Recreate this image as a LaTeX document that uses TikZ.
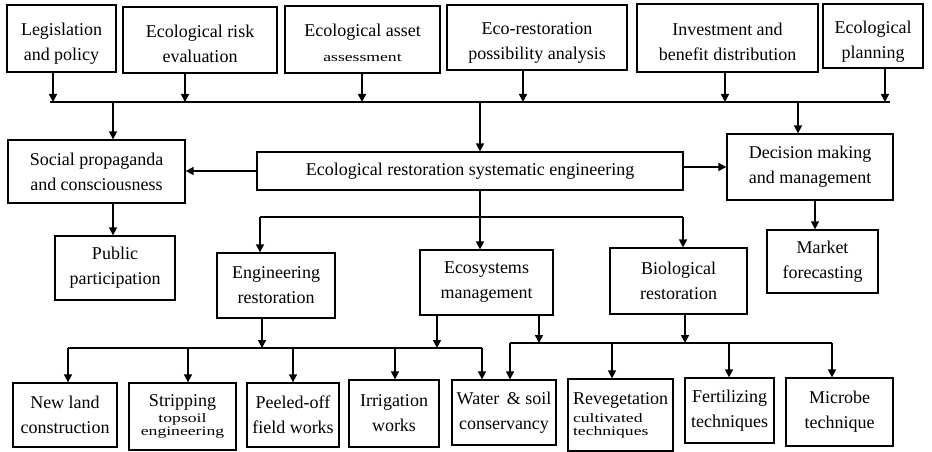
\documentclass[tikz,border=0pt]{standalone}
\usepackage{fontspec}
\usepackage{graphicx}
\setmainfont{Liberation Serif}
\usetikzlibrary{arrows.meta}
\newcommand\sqz[1]{\scalebox{0.98}[0.72]{#1}}
\newcommand\twoln[2]{\raisebox{-5pt}[\height][\depth]{\begin{tabular}{@{}c@{}}#1\\#2\end{tabular}}}
\begin{document}
\begin{tikzpicture}[x=1pt,y=-1pt,
 box/.style={draw, line width=1.3pt, inner sep=0pt, align=center, font=\fontsize{18}{25}\selectfont},
 arr/.style={-{Triangle[length=8pt,width=8pt]}, line width=1.6pt},
 ln/.style={line width=1.6pt}]
\useasboundingbox[fill=white] (0,0) rectangle (932,452);
% top row
\node[box, minimum width=109pt, minimum height=67pt] (leg) at (61.5,38.5) {\twoln{Legislation}{and policy}};
\node[box, minimum width=154pt, minimum height=66pt] (risk) at (200,40) {\twoln{Ecological risk}{evaluation}};
\node[box, minimum width=155pt, minimum height=67pt] (asset) at (362.5,39.5) {\twoln{Ecological asset}{\sqz{assessment}}};
\node[box, minimum width=180pt, minimum height=65pt] (poss) at (537,37.5) {\twoln{Eco-restoration}{possibility analysis}};
\node[box, minimum width=181pt, minimum height=68pt] (inv) at (727.5,38) {\twoln{Investment and}{benefit distribution}};
\node[box, minimum width=100pt, minimum height=64pt] (plan) at (873,36) {\twoln{Ecological}{planning}};
% middle
\node[box, minimum width=177pt, minimum height=63pt] (soc) at (96.5,171.5) {Social propaganda\\and consciousness};
\node[box, minimum width=426pt, minimum height=38pt] (main) at (470,171) {Ecological restoration systematic engineering};
\node[box, minimum width=166pt, minimum height=66pt] (dec) at (810,167) {Decision making\\and management};
\node[box, minimum width=120pt, minimum height=64pt] (pub) at (115,268) {Public\\participation};
\node[box, minimum width=111pt, minimum height=63pt] (mkt) at (822.5,261.5) {Market\\forecasting};
\node[box, minimum width=118pt, minimum height=65pt] (eng) at (276,285.5) {Engineering\\restoration};
\node[box, minimum width=133pt, minimum height=65pt] (eco) at (486.5,282.5) {Ecosystems\\management};
\node[box, minimum width=137pt, minimum height=66pt] (bio) at (678.5,281) {Biological\\restoration};
% bottom
\node[box, minimum width=104pt, minimum height=64pt] (newl) at (65,415) {New land\\construction};
\node[box, minimum width=107pt, minimum height=67pt] (strip) at (182.5,416.5) {Stripping\\[-9pt]\sqz{topsoil}\\[-12pt]\sqz{engineering}};
\node[box, minimum width=92pt, minimum height=64pt] (peel) at (293,415) {Peeled-off\\field works};
\node[box, minimum width=90pt, minimum height=67pt] (irr) at (394,413.5) {Irrigation\\works};
\node[box, minimum width=104pt, minimum height=65pt] (wat) at (504,412.5) {Water \,\& soil\\conservancy};
\node[box, minimum width=105pt, minimum height=72pt, align=left] (rev) at (620.5,415) {Revegetation\\[-7pt]\sqz{cultivated}\\[-12pt]\sqz{techniques}};
\node[box, minimum width=89pt, minimum height=65pt] (fert) at (729.5,410.5) {Fertilizing\\techniques};
\node[box, minimum width=107pt, minimum height=68pt] (mic) at (839.5,412) {Microbe\\technique};
% top bus
\coordinate (busL) at (50,102);
\coordinate (busR) at (890,102);
\draw[ln] (busL) -- (busR);
\coordinate (t1) at (53,102);
\coordinate (t2) at (185,102);
\coordinate (t3) at (362,102);
\coordinate (t4) at (523,102);
\coordinate (t5) at (725,102);
\coordinate (t6) at (885,102);
\draw[arr] (leg.south -| t1) -- (t1);
\draw[arr] (risk.south -| t2) -- (t2);
\draw[arr] (asset.south -| t3) -- (t3);
\draw[arr] (poss.south -| t4) -- (t4);
\draw[arr] (inv.south -| t5) -- (t5);
\draw[arr] (plan.south -| t6) -- (t6);
\coordinate (d1) at (113,102);
\coordinate (d2) at (480,102);
\coordinate (d3) at (798,102);
\draw[arr] (d1) -- (soc.north -| d1);
\draw[arr] (d2) -- (main.north -| d2);
\draw[arr] (d3) -- (dec.north -| d3);
% middle connections
\draw[arr] (main.west) -- (soc.east |- main.west);
\coordinate (mr) at (683,167);
\draw[arr] (mr) -- (dec.west |- mr);
\coordinate (p1) at (113,203);
\draw[arr] (soc.south -| p1) -- (pub.north -| p1);
\coordinate (m1) at (815,200);
\draw[arr] (dec.south -| m1) -- (mkt.north -| m1);
% main to second level
\coordinate (b1) at (260,217);
\coordinate (b2) at (480,217);
\coordinate (b3) at (683,217);
\draw[ln] (main.south -| b2) -- (b2);
\draw[ln] (b1) -- (b3);
\draw[arr] (b1) -- (eng.north -| b1);
\draw[arr] (b2) -- (eco.north -| b2);
\draw[arr] (b3) -- (bio.north -| b3);
% left lower bus
\coordinate (lL) at (68,348);
\coordinate (lR) at (482,348);
\draw[ln] (lL) -- (lR);
\coordinate (e1) at (262,348);
\coordinate (e2) at (437,348);
\draw[arr] (eng.south -| e1) -- (e1);
\draw[arr] (eco.south -| e2) -- (e2);
\coordinate (l2) at (188,348);
\coordinate (l3) at (293,348);
\coordinate (l4) at (395,348);
\draw[arr] (lL) -- (newl.north -| lL);
\draw[arr] (l2) -- (strip.north -| l2);
\draw[arr] (l3) -- (peel.north -| l3);
\draw[arr] (l4) -- (irr.north -| l4);
\draw[arr] (lR) -- (wat.north -| lR);
% right lower bus
\coordinate (rL) at (510,343);
\coordinate (rR) at (832,343);
\draw[ln] (rL) -- (rR);
\coordinate (f1) at (539,343);
\coordinate (f2) at (685,343);
\draw[arr] (eco.south -| f1) -- (f1);
\draw[arr] (bio.south -| f2) -- (f2);
\coordinate (r2) at (612,343);
\coordinate (r3) at (729,343);
\draw[arr] (rL) -- (wat.north -| rL);
\draw[arr] (r2) -- (rev.north -| r2);
\draw[arr] (r3) -- (fert.north -| r3);
\draw[arr] (rR) -- (mic.north -| rR);
\end{tikzpicture}
\end{document}
